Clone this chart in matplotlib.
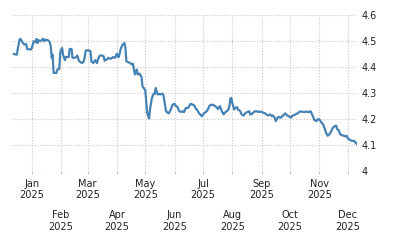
import pandas as pd
import matplotlib
matplotlib.use("Agg")
import matplotlib.pyplot as plt
import matplotlib.dates as mdates

# values
dates = [
    "2024-12-13", "2024-12-16", "2024-12-17", "2024-12-19", "2024-12-20", "2024-12-22",
    "2024-12-24", "2024-12-26", "2024-12-27", "2024-12-30", "2024-12-31", "2025-01-01",
    "2025-01-03", "2025-01-05", "2025-01-06", "2025-01-07", "2025-01-08", "2025-01-10",
    "2025-01-12", "2025-01-13", "2025-01-14", "2025-01-16", "2025-01-18", "2025-01-20",
    "2025-01-21", "2025-01-22", "2025-01-23", "2025-01-24", "2025-01-27", "2025-01-28",
    "2025-01-30", "2025-01-31", "2025-02-01", "2025-02-02", "2025-02-03", "2025-02-05",
    "2025-02-06", "2025-02-09", "2025-02-10", "2025-02-12", "2025-02-13", "2025-02-15",
    "2025-02-17", "2025-02-18", "2025-02-20", "2025-02-23", "2025-02-25", "2025-02-26",
    "2025-02-27", "2025-03-02", "2025-03-04", "2025-03-05", "2025-03-07", "2025-03-09",
    "2025-03-11", "2025-03-12", "2025-03-14", "2025-03-16", "2025-03-18", "2025-03-19",
    "2025-03-21", "2025-03-23", "2025-03-25", "2025-03-27", "2025-03-28", "2025-03-30",
    "2025-04-01", "2025-04-02", "2025-04-03", "2025-04-05", "2025-04-07", "2025-04-09",
    "2025-04-10", "2025-04-11", "2025-04-13", "2025-04-15", "2025-04-17", "2025-04-18",
    "2025-04-19", "2025-04-20", "2025-04-22", "2025-04-23", "2025-04-25", "2025-04-26",
    "2025-04-27", "2025-04-28", "2025-04-30", "2025-05-01", "2025-05-02", "2025-05-03",
    "2025-05-05", "2025-05-06", "2025-05-08", "2025-05-10", "2025-05-11", "2025-05-12",
    "2025-05-14", "2025-05-16", "2025-05-17", "2025-05-19", "2025-05-20", "2025-05-21",
    "2025-05-23", "2025-05-25", "2025-05-26", "2025-05-28", "2025-05-30", "2025-06-01",
    "2025-06-02", "2025-06-04", "2025-06-06", "2025-06-08", "2025-06-10", "2025-06-11",
    "2025-06-13", "2025-06-15", "2025-06-16", "2025-06-18", "2025-06-20", "2025-06-22",
    "2025-06-23", "2025-06-25", "2025-06-27", "2025-06-28", "2025-06-30", "2025-07-02",
    "2025-07-05", "2025-07-07", "2025-07-08", "2025-07-11", "2025-07-14", "2025-07-15",
    "2025-07-17", "2025-07-19", "2025-07-21", "2025-07-23", "2025-07-24", "2025-07-26",
    "2025-07-28", "2025-07-29", "2025-07-30", "2025-07-31", "2025-08-01", "2025-08-03",
    "2025-08-04", "2025-08-06", "2025-08-07", "2025-08-09", "2025-08-11", "2025-08-13",
    "2025-08-14", "2025-08-15", "2025-08-17", "2025-08-19", "2025-08-20", "2025-08-21",
    "2025-08-23", "2025-08-25", "2025-08-27", "2025-08-29", "2025-08-30", "2025-09-01",
    "2025-09-03", "2025-09-05", "2025-09-06", "2025-09-08", "2025-09-10", "2025-09-12",
    "2025-09-13", "2025-09-15", "2025-09-16", "2025-09-18", "2025-09-19", "2025-09-21",
    "2025-09-23", "2025-09-25", "2025-09-26", "2025-09-28", "2025-09-30", "2025-10-02",
    "2025-10-03", "2025-10-05", "2025-10-07", "2025-10-09", "2025-10-11", "2025-10-12",
    "2025-10-14", "2025-10-16", "2025-10-18", "2025-10-19", "2025-10-21", "2025-10-23",
    "2025-10-24", "2025-10-26", "2025-10-27", "2025-10-29", "2025-10-31", "2025-11-02",
    "2025-11-03", "2025-11-05", "2025-11-07", "2025-11-08", "2025-11-10", "2025-11-12",
    "2025-11-14", "2025-11-15", "2025-11-17", "2025-11-19", "2025-11-20", "2025-11-22",
    "2025-11-23", "2025-11-25", "2025-11-27", "2025-11-29", "2025-11-30", "2025-12-02",
    "2025-12-04", "2025-12-06", "2025-12-08", "2025-12-10", "2025-12-11",
]
values = [
    4.450, 4.447, 4.467, 4.505, 4.508, 4.495, 4.486, 4.488, 4.469, 4.467, 4.467, 4.473,
    4.499, 4.495, 4.508, 4.492, 4.503, 4.499, 4.505, 4.509, 4.499, 4.505, 4.503, 4.495,
    4.479, 4.435, 4.447, 4.377, 4.377, 4.390, 4.392, 4.454, 4.467, 4.473, 4.447, 4.426,
    4.438, 4.438, 4.469, 4.469, 4.435, 4.435, 4.438, 4.444, 4.422, 4.415, 4.422, 4.441,
    4.463, 4.464, 4.460, 4.422, 4.415, 4.426, 4.415, 4.431, 4.444, 4.444, 4.441, 4.424,
    4.428, 4.435, 4.431, 4.435, 4.438, 4.435, 4.451, 4.441, 4.438, 4.469, 4.486, 4.492,
    4.473, 4.422, 4.418, 4.415, 4.409, 4.412, 4.390, 4.371, 4.390, 4.371, 4.374, 4.367,
    4.362, 4.326, 4.315, 4.310, 4.268, 4.223, 4.201, 4.236, 4.281, 4.297, 4.296, 4.319,
    4.294, 4.296, 4.294, 4.297, 4.294, 4.274, 4.229, 4.223, 4.221, 4.236, 4.255, 4.258,
    4.251, 4.246, 4.229, 4.227, 4.229, 4.226, 4.242, 4.242, 4.246, 4.258, 4.255, 4.251,
    4.242, 4.233, 4.221, 4.217, 4.210, 4.221, 4.229, 4.242, 4.251, 4.255, 4.249, 4.246,
    4.238, 4.249, 4.229, 4.217, 4.223, 4.229, 4.236, 4.249, 4.277, 4.281, 4.262, 4.236,
    4.242, 4.245, 4.236, 4.232, 4.217, 4.213, 4.217, 4.223, 4.226, 4.229, 4.217, 4.217,
    4.223, 4.229, 4.229, 4.226, 4.228, 4.227, 4.223, 4.221, 4.217, 4.213, 4.217, 4.210,
    4.213, 4.204, 4.191, 4.204, 4.208, 4.204, 4.210, 4.217, 4.221, 4.213, 4.210, 4.204,
    4.210, 4.214, 4.217, 4.221, 4.226, 4.229, 4.227, 4.226, 4.228, 4.227, 4.226, 4.229,
    4.221, 4.204, 4.195, 4.191, 4.200, 4.194, 4.187, 4.180, 4.161, 4.148, 4.135, 4.141,
    4.154, 4.163, 4.171, 4.174, 4.161, 4.154, 4.141, 4.137, 4.135, 4.132, 4.135, 4.122,
    4.118, 4.115, 4.115, 4.106, 4.102,
]
month_ticks = pd.date_range("2025-01-01", "2025-12-01", freq="MS")
month_labels = [f"{d.strftime('%b')}\n{d.year}" for d in month_ticks]
y_ticks = [4.0, 4.1, 4.2, 4.3, 4.4, 4.5, 4.6]

x = pd.to_datetime(dates)

fig = plt.figure(figsize=(4, 2.5), dpi=100)
ax = fig.add_axes([0.03, 0.317, 0.8625, 0.623])

ax.plot(x, values, color="#4682b4", lw=1.6, solid_joinstyle="round")

ax.set_xlim(pd.Timestamp("2024-12-11"), pd.Timestamp("2025-12-11"))
ax.set_ylim(4.0, 4.6)

ax.yaxis.tick_right()
ax.set_yticks(y_ticks)
ax.set_yticklabels([f"{v:g}" for v in y_ticks])
ax.set_xticks(month_ticks)
ax.set_xticklabels(month_labels)

for s in ax.spines.values():
    s.set_visible(False)

grid_style = dict(color="#c8c8c8", lw=0.8, linestyle=(0, (1, 1.5)))
ax.grid(True, **grid_style)
ax.set_axisbelow(True)

ax.tick_params(axis="y", length=0, pad=3, labelsize=7, labelcolor="#222222")
ax.tick_params(axis="x", length=2.5, color="#c8c8c8", pad=3.5, labelsize=7,
               labelcolor="#222222")
for t in ax.xaxis.get_ticklabels():
    t.set_linespacing(1.15)
for i, t in enumerate(ax.xaxis.get_major_ticks()):
    if i % 2 == 1:
        t.set_pad(26)

fig.savefig("out.png", dpi=100)
